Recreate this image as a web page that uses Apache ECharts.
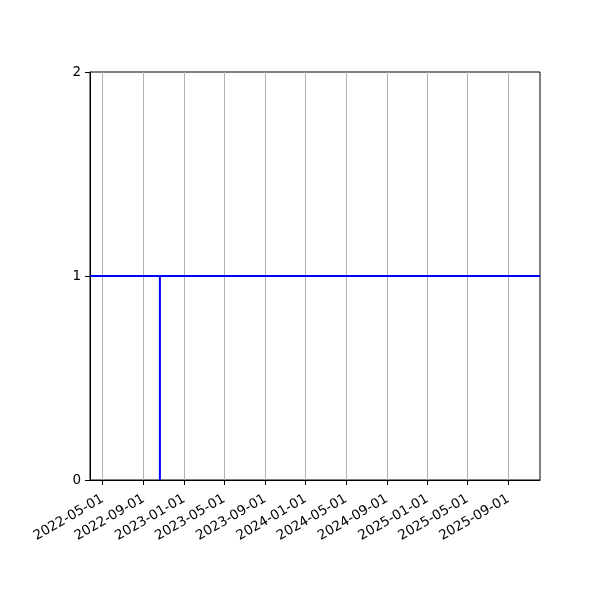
<!DOCTYPE html>
<html>
<head>
<meta charset="utf-8">
<script src="https://cdn.jsdelivr.net/npm/echarts@6/dist/echarts.min.js"></script>
<style>
  html, body { margin: 0; padding: 0; background: #fff; }
  #chart { width: 600px; height: 600px; }
</style>
</head>
<body>
<div id="chart"></div>
<script>
// x range of the plot (dates)
const xRange = ["2022-03-24", "2025-12-05"];

// tick dates on the x axis
const xTicks = [
  "2022-05-01", "2022-09-01", "2023-01-01", "2023-05-01", "2023-09-01",
  "2024-01-01", "2024-05-01", "2024-09-01", "2025-01-01", "2025-05-01",
  "2025-09-01",
];

// y ticks
const yTicks = [0, 1, 2];

// the series: flat at 1, with a drop to 0 on one date
const lineDates = ["2022-03-24", "2022-10-20", "2022-10-20", "2022-10-20", "2025-12-05"];
const lineValues = [1, 1, 0, 1, 1];

const toTime = (s) => Date.parse(s + "T00:00:00Z");
const pad = (n) => String(n).padStart(2, "0");
const fmtDate = (v) => {
  const d = new Date(v);
  return d.getUTCFullYear() + "-" + pad(d.getUTCMonth() + 1) + "-" + pad(d.getUTCDate());
};

const tickTimes = xTicks.map(toTime);
const FONT = "DejaVu Sans";

const chartDom = document.getElementById("chart");
const myChart = echarts.init(chartDom, null, { renderer: "canvas" });

const option = {
  animation: false,
  backgroundColor: "#fff",
  grid: {
    left: 90,
    right: 60,
    top: 72,
    bottom: 120,
    show: true,
    borderColor: "#000",
    borderWidth: 1,
    backgroundColor: "transparent",
  },
  xAxis: {
    type: "value",
    min: toTime(xRange[0]),
    max: toTime(xRange[1]),
    axisLine: { show: true, onZero: false, lineStyle: { color: "#000", width: 1 } },
    axisTick: {
      show: true,
      customValues: tickTimes,
      length: 5,
      lineStyle: { color: "#000", width: 1 },
    },
    splitLine: {
      show: true,
      customValues: tickTimes,
      lineStyle: { color: "#b0b0b0", width: 1 },
    },
    axisLabel: {
      customValues: tickTimes,
      rotate: 30,
      margin: 18,
      color: "#000",
      fontFamily: FONT,
      fontSize: 13.5,
      showMinLabel: true,
      showMaxLabel: true,
      formatter: (v) => fmtDate(v),
    },
  },
  yAxis: {
    type: "value",
    min: yTicks[0],
    max: yTicks[yTicks.length - 1],
    interval: 1,
    axisLine: { show: true, lineStyle: { color: "#000", width: 1 } },
    axisTick: { show: true, length: 5, lineStyle: { color: "#000", width: 1 } },
    splitLine: { show: false },
    axisLabel: {
      color: "#000",
      fontFamily: FONT,
      fontSize: 13.5,
      margin: 9,
    },
  },
  series: [
    {
      type: "line",
      data: lineDates.map((d, i) => [toTime(d), lineValues[i]]),
      showSymbol: false,
      symbol: "none",
      lineStyle: { color: "#0000ff", width: 2 },
      clip: true,
    },
  ],
};

myChart.setOption(option);
</script>
</body>
</html>
